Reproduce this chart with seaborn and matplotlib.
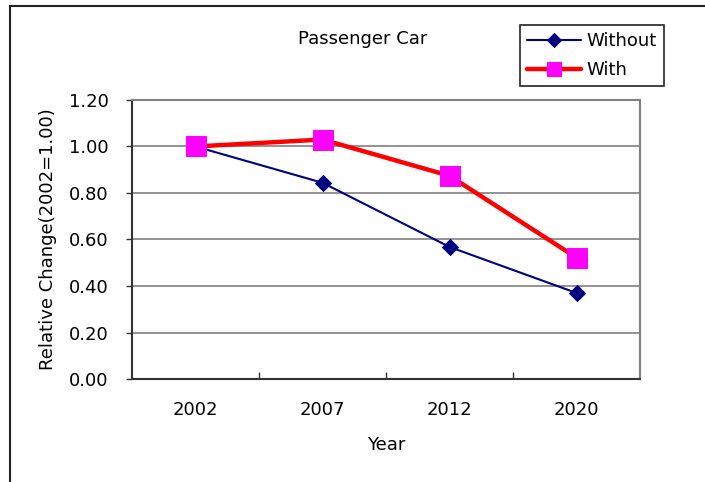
import matplotlib
matplotlib.use("Agg")
import matplotlib.pyplot as plt
from matplotlib.patches import Rectangle
from matplotlib.ticker import FixedLocator, MultipleLocator
import seaborn as sns
import pandas as pd

years = ["2002", "2007", "2012", "2020"]
without_vals = [1.00, 0.844, 0.568, 0.370]
with_vals = [1.00, 1.030, 0.874, 0.522]

sns.set_theme(style="white")
plt.rcParams["font.family"] = ["DejaVu Sans"]

fig = plt.figure(figsize=(7.05, 4.82), dpi=100)
ax = fig.add_axes([132 / 705, 1 - 379 / 482, 508 / 705, 279 / 482])

# outer chart frame (runs past the right and bottom edges)
fig.patches.append(Rectangle((10 / 705, -0.1), 1.2, 1 - 6 / 482 + 0.1,
                             transform=fig.transFigure, fill=False,
                             edgecolor="#222222", linewidth=1.5, zorder=0))

df = pd.DataFrame({"pos": list(range(len(years))),
                   "Without": without_vals, "With": with_vals})

sns.lineplot(data=df, x="pos", y="Without", ax=ax, color="#000080",
             linewidth=1.5, marker="D", markersize=8,
             markerfacecolor="#000080", markeredgecolor="#000080",
             label="Without", zorder=3)
sns.lineplot(data=df, x="pos", y="With", ax=ax, color="#ff0000",
             linewidth=3.2, marker="s", markersize=14,
             markerfacecolor="#ff00ff", markeredgecolor="#ff00ff",
             label="With", zorder=4)

ax.set_xlim(-0.5, len(years) - 0.5)
ax.set_ylim(0, 1.2)
ax.yaxis.set_major_locator(MultipleLocator(0.2))
ax.set_yticklabels([f"{v:.2f}" for v in ax.get_yticks()])
ax.set_xticks(range(len(years)))
ax.set_xticklabels(years)
ax.xaxis.set_minor_locator(FixedLocator([0.5, 1.5, 2.5]))
ax.tick_params(axis="x", which="major", length=0, pad=16, labelsize=13,
               labelcolor="black")
ax.tick_params(axis="x", which="minor", direction="in", length=5,
               width=1, color="#333333", bottom=True)
ax.tick_params(axis="y", which="major", direction="out", length=4,
               width=1, color="#333333", left=True, labelsize=13,
               labelcolor="black", pad=13)

ax.grid(axis="y", color="#808080", linewidth=1.2)
ax.grid(axis="x", visible=False)
for side in ("left", "bottom"):
    ax.spines[side].set_color("#333333")
    ax.spines[side].set_linewidth(1.5)
for side in ("top", "right"):
    ax.spines[side].set_color("#808080")
    ax.spines[side].set_linewidth(1.5)
    ax.spines[side].set_visible(True)

ax.set_xlabel("Year", fontsize=13, labelpad=12, color="black")
ax.set_ylabel("Relative Change(2002=1.00)", fontsize=13, labelpad=8,
              color="black")

fig.text(363 / 705, 1 - 39 / 482, "Passenger Car", ha="center",
         va="center", fontsize=13, color="black")

leg = ax.legend(loc="upper left", bbox_to_anchor=(520 / 705, 1 - 25 / 482),
                bbox_transform=fig.transFigure, fontsize=13, frameon=True,
                fancybox=False, framealpha=1, edgecolor="#222222",
                handlelength=3.0, borderpad=0.4, labelspacing=0.6,
                handletextpad=0.3, borderaxespad=0, labelcolor="black")
leg.get_frame().set_linewidth(1.2)
for h in leg.legend_handles:
    if h.get_label() == "With":
        h.set_markersize(10)
    else:
        h.set_markersize(7)

fig.savefig("out.png", dpi=100)
